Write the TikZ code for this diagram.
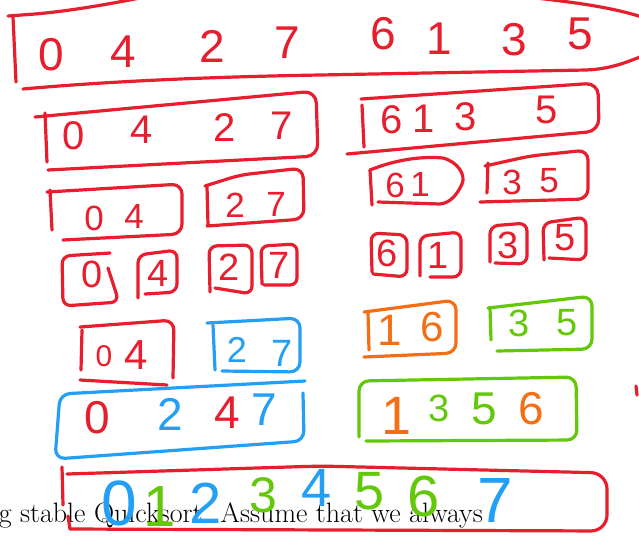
\documentclass[tikz,border=0pt]{standalone}
\usepackage{fontspec}
\newfontfamily\hand{Liberation Sans}
\definecolor{hr}{RGB}{230,30,45}
\definecolor{hb}{RGB}{35,160,245}
\definecolor{ho}{RGB}{245,110,20}
\definecolor{hg}{RGB}{100,200,10}
\tikzset{
  ink/.style={line width=3.2pt, line cap=round, line join=round},
  dg/.style={font=\hand\fontsize{#1}{#1}\selectfont, inner sep=0pt},
  txt/.style={font=\fontsize{28}{32}\selectfont, inner sep=0pt, text=black}
}
\begin{document}
\begin{tikzpicture}[x=1pt,y=-1pt]
\useasboundingbox (0,0) rectangle (639,539);
\clip (0,0) rectangle (639,539);
\fill[white] (0,0) rectangle (639,539);
% printed text underneath
\node[txt, anchor=base east] (line) at (483,522) {g stable Quicksort. Assume that we always};

% ---- level 0
\draw[ink,hr] (13,17) -- (16,82);
\draw[ink,hr] (8,16) -- (35,14) .. controls (70,11) and (110,4) .. (150,-4);
\draw[ink,hr] (536,-2) .. controls (580,3) and (615,8) .. (645,18);
\draw[ink,hr] (23,89) .. controls (100,82) and (200,77) .. (320,75) -- (586,70) .. controls (610,69) and (625,63) .. (645,55);
\node[dg=46,hr] (a0) at (51,55) {0};
\node[dg=46,hr] (a4) at (123,52) {4};
\node[dg=46,hr] (a2) at (212,46) {2};
\node[dg=46,hr] (a7) at (287,43) {7};
\node[dg=46,hr] (a6) at (383,34) {6};
\node[dg=46,hr] (a1) at (439,39) {1};
\node[dg=46,hr] (a3) at (514,40) {3};
\node[dg=46,hr] (a5) at (580,34) {5};

% ---- level 1
\draw[ink,hr] (45,113) -- (47,162);
\draw[ink,hr,rounded corners=12] (35,117) -- (316,91) -- (318,156) -- (48,170);
\node[dg=40,hr] (b0) at (74,136) {0};
\node[dg=40,hr] (b4) at (142,130) {4};
\node[dg=40,hr] (b2) at (225,128) {2};
\node[dg=40,hr] (b7) at (282,126) {7};

\draw[ink,hr] (362,105) -- (364,147);
\draw[ink,hr,rounded corners=12] (361,99) -- (598,83) -- (599,131) -- (347,154);
\node[dg=40,hr] (b6) at (392,120) {6};
\node[dg=40,hr] (b1) at (424,119) {1};
\node[dg=40,hr] (b3) at (466,117) {3};
\node[dg=40,hr] (b5) at (547,110) {5};

% ---- level 2
\draw[ink,hr] (50,190) -- (52,230);
\draw[ink,hr,rounded corners=10] (47,192) -- (182,184) -- (182,234) -- (63,240);
\node[dg=35,hr] (c0) at (94,218) {0};
\node[dg=35,hr] (c4) at (134,216) {4};

\draw[ink,hr] (207,186) -- (208,225);
\draw[ink,hr,rounded corners=10] (205,186) -- (240,175) -- (303,168) -- (304,219) -- (207,226);
\node[dg=35,hr] (c2) at (235,205) {2};
\node[dg=35,hr] (c7) at (276,204) {7};

\draw[ink,hr] (370,170) -- (372,205);
\draw[ink,hr] (370,170) .. controls (395,160) and (420,156) .. (443,158) .. controls (458,162) and (466,175) .. (462,184) .. controls (457,195) and (450,203) .. (440,204) -- (378,202);
\node[dg=35,hr] (c6) at (395,185) {6};
\node[dg=35,hr] (c1) at (420,184) {1};

\draw[ink,hr] (488,163) -- (487,193);
\draw[ink,hr,rounded corners=10] (485,166) -- (530,156) -- (588,150) -- (588,199) -- (480,202);
\node[dg=35,hr] (c3) at (512,182) {3};
\node[dg=35,hr] (c5) at (549,181) {5};

% ---- level 3 singles
\draw[ink,hr,rounded corners=8] (110,253) -- (62,256) -- (63,306) -- (119,302) -- (108,268);
\node[dg=38,hr] (d0) at (92,274) {0};
\draw[ink,hr,rounded corners=8] (138,298) -- (138,255) -- (177,250) -- (177,292) -- (145,294);
\node[dg=38,hr] (d4) at (158,273) {4};
\draw[ink,hr,rounded corners=8] (210,292) -- (209,246) -- (252,245) -- (252,294) -- (215,288);
\node[dg=38,hr] (d2) at (229,267) {2};
\draw[ink,hr,rounded corners=7] (262,284) -- (261,246) -- (297,244) -- (297,285) -- (264,285);
\node[dg=38,hr] (d7) at (279,265) {7};

\draw[ink,hr,rounded corners=8] (372,272) -- (371,233) -- (407,235) -- (407,277) -- (373,274);
\node[dg=38,hr] (d6) at (387,253) {6};
\draw[ink,hr,rounded corners=8] (420,276) -- (420,236) -- (461,232) -- (461,277) -- (430,277);
\node[dg=38,hr] (d1) at (438,255) {1};
\draw[ink,hr,rounded corners=8] (490,262) -- (490,226) -- (527,223) -- (527,264) -- (495,263);
\node[dg=38,hr] (d3) at (508,245) {3};
\draw[ink,hr,rounded corners=8] (544,260) -- (543,223) -- (586,217) -- (586,260) -- (549,258);
\node[dg=38,hr] (d5) at (565,238) {5};

% ---- merge level 1
\draw[ink,hr] (82,330) -- (81,370);
\draw[ink,hr,rounded corners=10] (80,327) -- (174,320) -- (173,378);
\draw[ink,hr] (80,380) -- (167,385);
\node[dg=30,hr] (e0) at (104,356) {0};
\node[dg=42,hr] (e4) at (136,355) {4};

\draw[ink,hb] (213,325) -- (215,370);
\draw[ink,hb,rounded corners=10] (207,323) -- (300,318) -- (300,372) -- (222,371);
\node[dg=36,hb] (e2) at (237,350) {2};
\node[dg=38,hb] (e7) at (282,353) {7};

\draw[ink,ho] (368,313) -- (369,350);
\draw[ink,ho,rounded corners=10] (364,312) -- (456,300) -- (456,353) -- (364,357);
\node[dg=44,ho] (e1) at (390,330) {1};
\node[dg=42,ho] (e6) at (432,327) {6};

\draw[ink,hg] (490,308) -- (491,340);
\draw[ink,hg,rounded corners=10] (488,308) -- (592,296) -- (592,349) -- (497,351);
\node[dg=38,hg] (e3) at (519,323) {3};
\node[dg=38,hg] (e5) at (567,323) {5};

% ---- merge level 2
\draw[ink,hb,rounded corners=10] (303,393) -- (304,441) -- (55,459) -- (60,394) -- (305,381);
\node[dg=46,hr] (f0) at (97,418) {0};
\node[dg=46,hb] (f2) at (170,414) {2};
\node[dg=46,hr] (f4) at (227,413) {4};
\node[dg=46,hb] (f7) at (264,410) {7};

\draw[ink,hg,rounded corners=10] (359,437) -- (359,381) -- (576,377) -- (577,440) -- (366,441);
\node[dg=54,ho] (f1) at (397,416) {1};
\node[dg=38,hg] (f3) at (439,408) {3};
\node[dg=46,hg] (f5) at (484,409) {5};
\node[dg=46,ho] (f6) at (531,409) {6};

\draw[ink,hr] (636,386) -- (637,395);

% ---- final
\draw[ink,hr] (62,467) -- (63,505);
\draw[ink,hr,rounded corners=16] (67,474) -- (320,466) -- (607,473) -- (607,531) -- (70,529);
\draw[ink,hr] (70,529) -- (68,516);
\node[dg=64,hb] (g0) at (119,503) {0};
\node[dg=58,hg] (g1) at (160,507) {1};
\node[dg=58,hb] (g2) at (206,503) {2};
\node[dg=50,hg] (g3) at (263,495) {3};
\node[dg=54,hb] (g4) at (317,488) {4};
\node[dg=54,hg] (g5) at (370,491) {5};
\node[dg=58,hg] (g6) at (424,497) {6};
\node[dg=64,hb] (g7) at (495,500) {7};
\end{tikzpicture}
\end{document}
